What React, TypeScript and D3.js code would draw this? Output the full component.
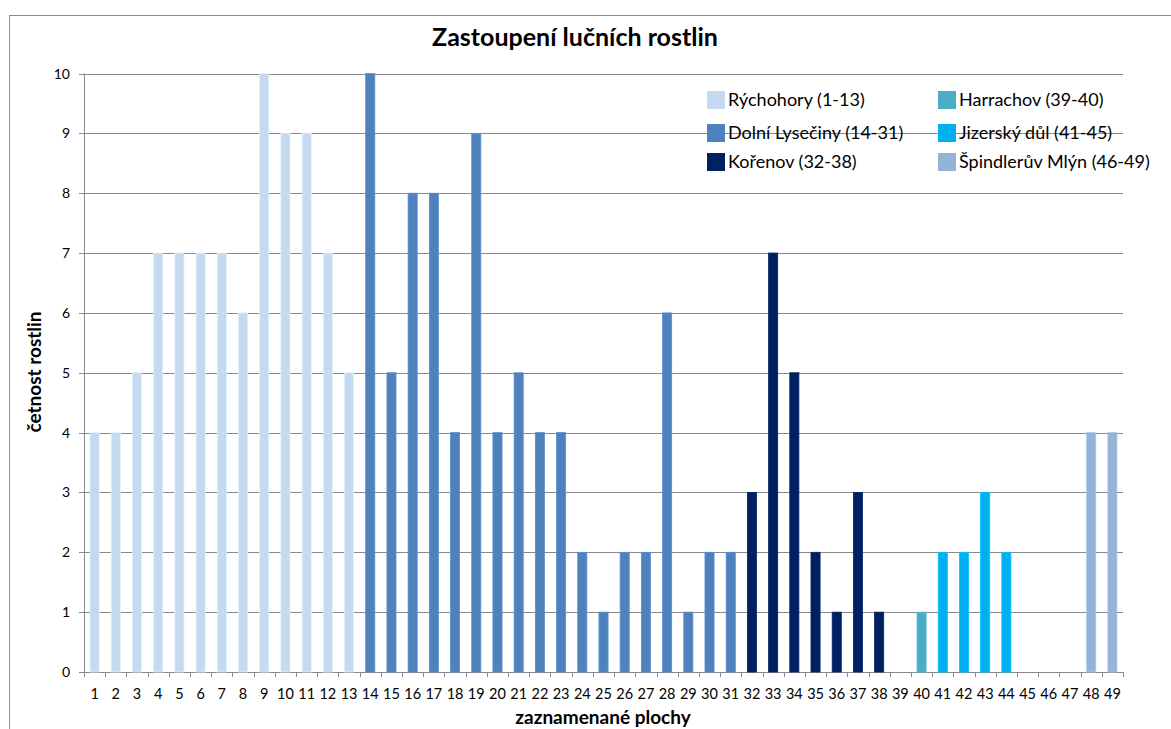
import React from "react";
import * as d3 from "d3";

const plots = ["1","2","3","4","5","6","7","8","9","10","11","12","13","14","15","16","17","18","19","20","21","22","23","24","25","26","27","28","29","30","31","32","33","34","35","36","37","38","39","40","41","42","43","44","45","46","47","48","49"];
const counts = [4,4,5,7,7,7,7,6,10,9,9,7,5,10,5,8,8,4,9,4,5,4,4,2,1,2,2,6,1,2,2,3,7,5,2,1,3,1,0,1,2,2,3,2,0,0,0,4,4];
const siteNames = ["Rýchohory (1-13)","Dolní Lysečiny (14-31)","Kořenov (32-38)","Harrachov (39-40)","Jizerský důl (41-45)","Špindlerův Mlýn (46-49)"];
const siteFirst = [1,14,32,39,41,46];
const siteLast = [13,31,38,40,45,49];
const siteColors = ["#C6D9F1","#4F81BD","#002060","#4BACC6","#00B0F0","#95B3D7"];
const yTicks = [0,1,2,3,4,5,6,7,8,9,10];

const FONT = "Lato, 'Open Sans', sans-serif";

function siteIndex(p: number) {
  for (let i = 0; i < siteFirst.length; i++) if (p >= siteFirst[i] && p <= siteLast[i]) return i;
  return 0;
}

export default function App() {
  const W = 1171, H = 729;
  const left = 84, right = 1123, top = 73.5, bottom = 672;
  const x = d3.scaleBand<string>().domain(plots).range([left, right]).paddingInner(0.57).paddingOuter(0.285);
  const xs = d3.scaleBand<string>().domain(plots).range([left, right]);
  const y = d3.scaleLinear().domain([0, 10]).range([bottom, top]);
  const grid = "#8a8a8a";
  return (
    <svg width={W} height={H} style={{ position: "absolute", left: 0, top: 0, background: "#fff" }} fontFamily={FONT}>
      <rect x={9.5} y={15.5} width={1300} height={900} fill="#fff" stroke="#8c8c8c" />
      <text x={575} y={46} textAnchor="middle" fontSize={25} fontWeight="bold" fill="#000">Zastoupení lučních rostlin</text>
      {yTicks.map((t) => (
        <g key={t}>
          <line x1={left - 5} x2={right} y1={Math.round(y(t)) + 0.5} y2={Math.round(y(t)) + 0.5} stroke={grid} />
          <text x={70} y={y(t) + 5} textAnchor="end" fontSize={14} fill="#000">{t}</text>
        </g>
      ))}
      <line x1={left + 0.5} x2={left + 0.5} y1={top} y2={bottom} stroke={grid} />
      {plots.map((p) => (
        <line key={"t" + p} x1={Math.round(xs(p)!) + 0.5} x2={Math.round(xs(p)!) + 0.5} y1={bottom} y2={bottom + 5} stroke={grid} />
      ))}
      <line x1={right + 0.5} x2={right + 0.5} y1={bottom} y2={bottom + 5} stroke={grid} />
      {plots.map((p, i) => {
        const v = counts[i];
        if (v <= 0) return null;
        const c = siteColors[siteIndex(+p)];
        return (
          <rect key={"b" + p} x={x(p)!} y={y(v)} width={x.bandwidth()} height={bottom - y(v)} fill={c} stroke={d3.color(c)!.brighter(0.3).toString()} strokeWidth={0.8} />
        );
      })}
      {plots.map((p) => (
        <text key={"l" + p} x={xs(p)! + xs.bandwidth() / 2} y={699} textAnchor="middle" fontSize={14.5} fill="#000">{p}</text>
      ))}
      <text x={603} y={724} textAnchor="middle" fontSize={19} fontWeight="bold" fill="#000">zaznamenané plochy</text>
      <text transform="translate(41,372) rotate(-90)" textAnchor="middle" fontSize={19} fontWeight="bold" fill="#000">četnost rostlin</text>
      {siteNames.map((n, i) => {
        const col = Math.floor(i / 3);
        const row = i % 3;
        const sx = col === 0 ? 707 : 938;
        const sy = [91, 124, 153][row];
        return (
          <g key={n}>
            <rect x={sx} y={sy} width={18} height={18} fill={siteColors[i]} />
            <text x={sx + 21} y={sy + 15} fontSize={18} fill="#000">{n}</text>
          </g>
        );
      })}
    </svg>
  );
}
